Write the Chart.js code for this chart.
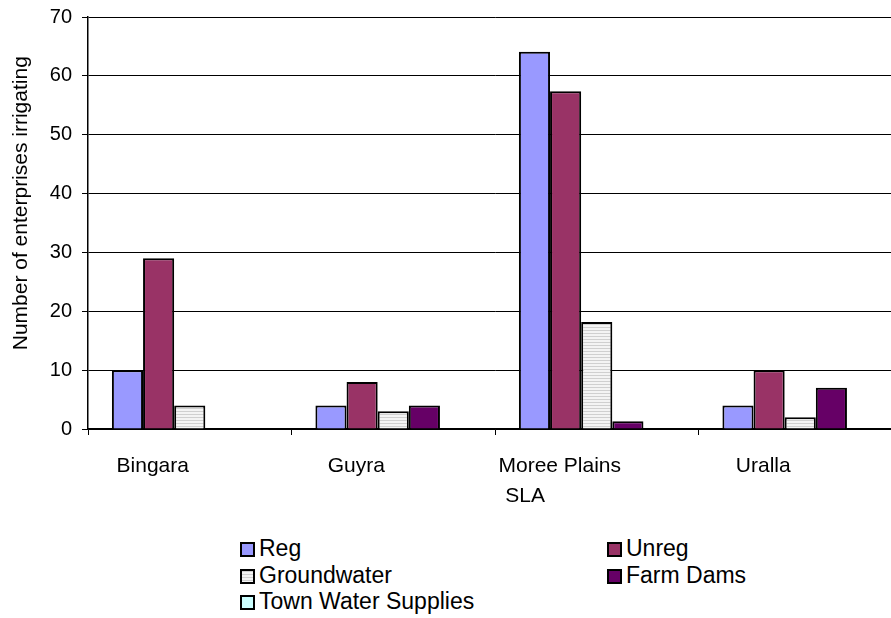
<!doctype html>
<html lang="en">
<head>
  <meta charset="utf-8">
  <title>Enterprises irrigating by SLA</title>
  <style>
    * {
      margin: 0;
      padding: 0;
      font-family: "Liberation Sans", Arial, sans-serif;
      color: black;
    }
    body {
      width: 891px;
      height: 618px;
      overflow: hidden;
      background: white;
      position: relative;
    }
    .chartBox {
      position: absolute;
      left: 0;
      top: 0;
      width: 905px;
      height: 520px;
    }
    .legendItem {
      position: absolute;
      font-size: 23px;
      line-height: 24px;
      white-space: nowrap;
    }
    .legendItem span.box {
      display: inline-block;
      width: 15px;
      height: 15px;
      border: 2px solid black;
      box-sizing: border-box;
      margin-right: 4px;
      vertical-align: -1px;
    }
  </style>
</head>
<body>
  <div class="chartBox">
    <canvas id="myChart"></canvas>
  </div>
  <div id="legend"></div>

  <script src="https://cdn.jsdelivr.net/npm/chart.js"></script>
  <script>
    // data
    const labels = ['Bingara', 'Guyra', 'Moree Plains', 'Uralla'];
    const regData = [10, 4, 64.1, 4];
    const unregData = [29, 8, 57.4, 10];
    const groundwaterData = [4, 3, 18.2, 2];
    const farmDamsData = [0, 4, 1.3, 7];
    const townWaterData = [0, 0, 0, 0];
    const yTicks = [0, 10, 20, 30, 40, 50, 60, 70];
    const xTitle = 'SLA';
    const yTitle = 'Number of enterprises irrigating';

    // striped fill for groundwater
    function stripes() {
      const c = document.createElement('canvas');
      c.width = 4;
      c.height = 3;
      const g = c.getContext('2d');
      g.fillStyle = '#f4f4f4';
      g.fillRect(0, 0, 4, 3);
      g.fillStyle = '#d0d0d0';
      g.fillRect(0, 0, 4, 1);
      return g.createPattern(c, 'repeat');
    }

    const series = [
      { label: 'Reg', data: regData, color: '#9999ff', css: '#9999ff' },
      { label: 'Unreg', data: unregData, color: '#993366', css: '#993366' },
      { label: 'Groundwater', data: groundwaterData, color: stripes(),
        css: 'repeating-linear-gradient(#d0d0d0 0 1px, #f4f4f4 1px 3px)' },
      { label: 'Farm Dams', data: farmDamsData, color: '#660066', css: '#660066' },
      { label: 'Town Water Supplies', data: townWaterData, color: '#ccffff', css: '#ccffff' }
    ];

    // legend layout (two columns, like the original)
    const legendPos = [[240, 536], [607, 536], [240, 563], [607, 563], [240, 589]];
    const legend = document.getElementById('legend');
    series.forEach((s, i) => {
      const d = document.createElement('div');
      d.className = 'legendItem';
      d.style.left = legendPos[i][0] + 'px';
      d.style.top = legendPos[i][1] + 'px';
      d.innerHTML = '<span class="box" style="background:' + s.css + '"></span>' + s.label;
      legend.appendChild(d);
    });

    const axisTitles = {
      id: 'axisTitles',
      afterDraw(chart) {
        const { ctx, chartArea } = chart;
        ctx.save();
        ctx.fillStyle = 'black';
        ctx.font = '21px "Liberation Sans", Arial, sans-serif';
        ctx.textAlign = 'center';
        ctx.textBaseline = 'middle';
        ctx.fillText(xTitle, chartArea.left + (chartArea.right - chartArea.left) * 0.537, chartArea.bottom + 67);
        ctx.translate(21, chartArea.top + (chartArea.bottom - chartArea.top) * 0.452);
        ctx.rotate(-Math.PI / 2);
        ctx.fillText(yTitle, 0, 0);
        ctx.restore();
      }
    };

    const data = {
      labels: labels,
      datasets: series.map(s => ({
        label: s.label,
        data: s.data,
        backgroundColor: s.color,
        borderColor: 'black',
        borderWidth: 2,
        categoryPercentage: 0.765,
        barPercentage: 1
      }))
    };

    const config = {
      type: 'bar',
      data,
      options: {
        responsive: true,
        maintainAspectRatio: false,
        animation: false,
        layout: {
          padding: { top: 17, right: 3, left: 0, bottom: 0 }
        },
        scales: {
          x: {
            afterFit: (scale) => { scale.height = 91; },
            grid: {
              offset: true,
              drawOnChartArea: false,
              tickLength: 6,
              color: 'black'
            },
            border: { color: 'black', width: 1.5 },
            ticks: {
              color: 'black',
              padding: 19,
              labelOffset: -37,
              maxRotation: 0,
              font: { size: 21, family: '"Liberation Sans", Arial, sans-serif' }
            }
          },
          y: {
            min: 0,
            max: 70,
            afterFit: (scale) => {
              scale.width = 88;
              scale.paddingTop = 0;
              scale.paddingBottom = 0;
            },
            afterBuildTicks: (scale) => { scale.ticks = yTicks.map(v => ({ value: v })); },
            grid: {
              color: 'black',
              lineWidth: 1,
              tickLength: 6
            },
            border: { color: 'black', width: 1.5 },
            ticks: {
              color: 'black',
              padding: 10,
              font: { size: 20, family: '"Liberation Sans", Arial, sans-serif' }
            }
          }
        },
        plugins: {
          legend: { display: false },
          tooltip: { enabled: false },
          title: { display: false }
        }
      },
      plugins: [axisTitles]
    };

    const myChart = new Chart(document.getElementById('myChart'), config);
  </script>
</body>
</html>
